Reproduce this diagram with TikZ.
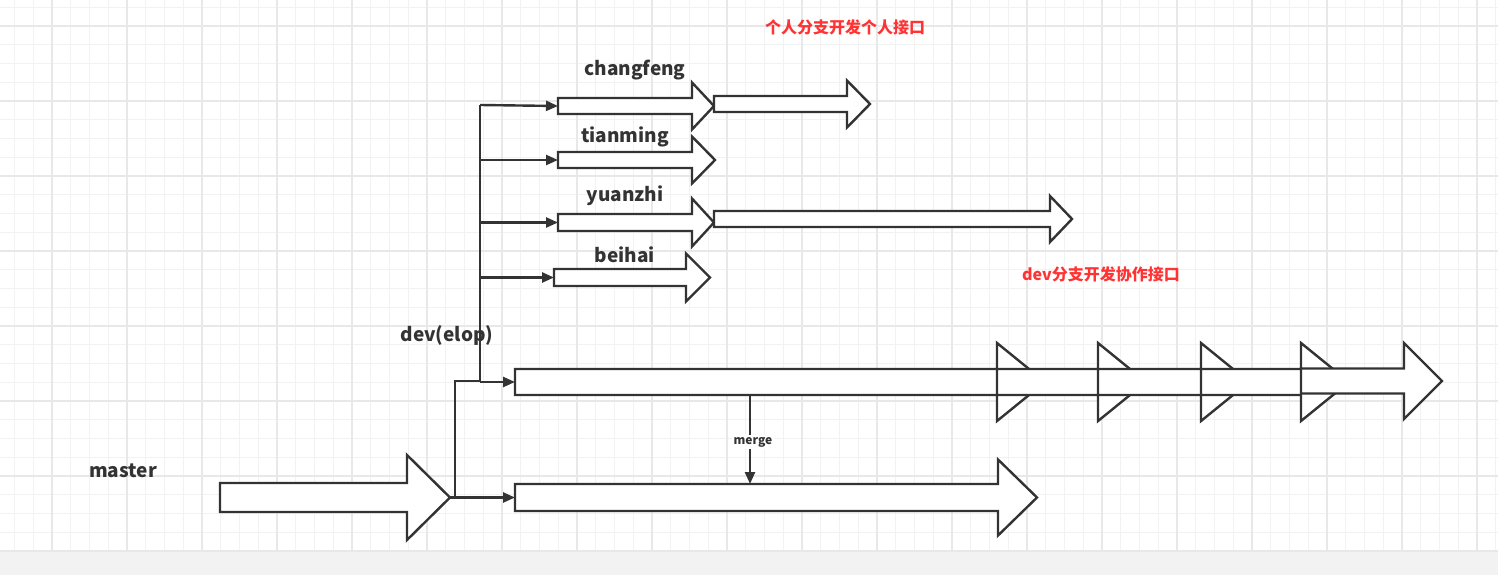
\documentclass[tikz,border=0pt]{standalone}
\usepackage{fontspec}
\setmainfont{Noto Sans CJK SC}
\usetikzlibrary{arrows.meta}
\definecolor{ink}{HTML}{333333}
\definecolor{redt}{HTML}{FF3333}
% \blockarrow{name}{x-left}{x-headbase}{x-tip}{y-centre}{half body}{half head}
\newcommand{\blockarrow}[7]{%
  \draw[barrow] (#2,#5-#6) -- (#3,#5-#6) -- (#3,#5-#7) -- (#4,#5) -- (#3,#5+#7) -- (#3,#5+#6) -- (#2,#5+#6) -- cycle;
  \coordinate (#1) at (#2,#5);
  \coordinate (#1tip) at (#4,#5);}
\begin{document}
\begin{tikzpicture}[x=1pt,y=-1pt,
  barrow/.style={draw=ink,line width=2.4pt,fill=white,line join=miter},
  conn/.style={draw=ink,line width=2.4pt,-{Triangle[length=12pt,width=10pt]}},
  lbl/.style={font=\bfseries\fontsize{19}{20}\selectfont,text=ink,inner sep=0pt},
  red/.style={font=\bfseries\fontsize{16}{18}\selectfont,text=redt,inner sep=0pt}]
\useasboundingbox (0,0) rectangle (1498,575);
\fill[white] (0,0) rectangle (1498,575);
\foreach \x in {14.5,33.25,...,1498} \draw[black!5,line width=0.8pt] (\x,0) -- (\x,552);
\foreach \y in {7.25,26,...,552} \draw[black!5,line width=0.8pt] (0,\y) -- (1498,\y);
\foreach \x in {52,127,...,1498} \draw[black!9,line width=1.2pt] (\x,0) -- (\x,552);
\foreach \y in {26,101,...,552} \draw[black!9,line width=1.2pt] (0,\y) -- (1498,\y);
\fill[black!5] (0,552) rectangle (1498,575);
% master
\blockarrow{m1}{220}{407}{450}{497.5}{14.5}{42.5}
\blockarrow{m2}{515}{998}{1037}{497.5}{13.5}{38}
% dev chain
\blockarrow{d1}{515}{997}{1045}{382}{13}{39}
\blockarrow{d2}{997}{1098}{1146}{382}{13}{39}
\blockarrow{d3}{1098}{1201}{1249}{382}{13}{39}
\blockarrow{d4}{1201}{1301}{1349}{382}{13}{39}
\blockarrow{d5}{1301}{1404}{1442}{381}{12.5}{38}
% personal branches
\blockarrow{c1}{558}{692}{714}{106}{8}{23.5}
\blockarrow{c2}{714}{847}{870}{104}{8}{23.5}
\blockarrow{t1}{558}{692}{715}{160}{8}{23.5}
\blockarrow{y1}{558}{692}{714}{222.5}{8.5}{24}
\blockarrow{y2}{714}{1050}{1072}{219}{8}{23}
\blockarrow{b1}{554}{686}{710}{277.5}{8.5}{24}
% connectors
\coordinate (split) at (455,497.5);
\coordinate (devtop) at (480,105);
\draw[ink,line width=2.4pt] (m1tip) -- (split);
\draw[conn] (split) -- (m2);
\draw[ink,line width=2.4pt] (split) -- (455,381) -- (480,381);
\draw[ink,line width=2.4pt] (480,382) -- (devtop);
\draw[conn] (480,382) -- (d1);
\draw[conn] (devtop) -- (c1);
\draw[conn] (480,160) -- (t1);
\draw[conn] (480,222.5) -- (y1);
\draw[conn] (480,277.5) -- (b1);
\coordinate (mtop) at (750,395);
\draw[conn] (mtop) -- (750,484);
\node[fill=white,inner sep=2pt,font=\bfseries\fontsize{12}{13}\selectfont,text=ink] (merge) at (753,442) {merge};
% labels
\node[lbl] (lc) at (635,70) {changfeng};
\node[lbl] (lt) at (625,137) {tianming};
\node[lbl] (ly) at (625,196) {yuanzhi};
\node[lbl] (lb) at (625,255) {beihai};
\node[lbl] (ld) at (447,335) {dev(elop)};
\node[lbl] (lm) at (123,471) {master};
\node[red] (r1) at (845,27) {个人分支开发个人接口};
\node[red] (r2) at (1101,274) {dev分支开发协作接口};
\end{tikzpicture}
\end{document}
